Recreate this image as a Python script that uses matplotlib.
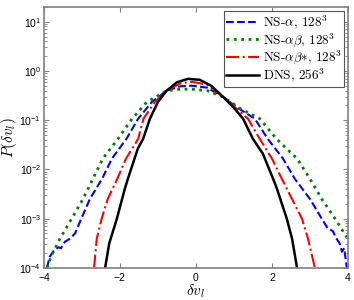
import matplotlib
matplotlib.use("Agg")
import matplotlib.pyplot as plt
import numpy as np

plt.rcParams['mathtext.fontset'] = 'cm'
plt.rcParams['font.family'] = ['Liberation Sans', 'DejaVu Sans']

# NS-alpha, 128^3 (x, log10 P)
x_a = [-3.92, -3.85, -3.76, -3.62, -3.55, -3.45, -3.32, -3.18, -3.05, -2.79,
       -2.47, -2.21, -1.83, -1.52, -1.16, -0.77, -0.4, -0.1, 0.3, 0.72,
       1.1, 1.55, 1.89, 2.29, 2.6, 3.0, 3.31, 3.47, 3.6, 3.7, 3.78, 3.84,
       3.9, 3.97]
ly_a = [-4.0, -3.78, -3.67, -3.58, -3.6, -3.47, -3.41, -3.3, -3.06, -2.6,
        -2.19, -1.78, -1.38, -0.97, -0.63, -0.40, -0.31, -0.30, -0.34, -0.53,
        -0.75, -0.97, -1.38, -1.78, -2.19, -2.6, -3.0, -3.2, -3.25, -3.41, -3.5, -3.67,
        -3.6, -4.0]

# NS-alpha-beta, 128^3
x_b = [-3.92, -3.80, -3.58, -3.27, -2.97, -2.71, -2.45, -2.05, -1.68, -1.29,
       -0.77, -0.4, -0.1, 0.3, 0.72, 1.2, 1.68, 2.12, 2.66, 3.0, 3.31, 3.66, 3.97]
ly_b = [-4.0, -3.75, -3.41, -3.0, -2.6, -2.19, -1.78, -1.38, -0.97, -0.63,
        -0.40, -0.37, -0.37, -0.40, -0.53, -0.78, -0.97, -1.38, -1.78, -2.19,
        -2.6, -3.0, -3.38]

# NS-alpha-beta*, 128^3
x_c = [-2.68, -2.61, -2.48, -2.32, -2.07, -1.84, -1.52, -1.38, -1.08, -0.77,
       -0.4, -0.1, 0.3, 0.72, 1.0, 1.37, 1.68, 2.0, 2.26, 2.39, 2.79, 2.95, 3.13]
ly_c = [-4.0, -3.41, -3.0, -2.6, -2.19, -1.78, -1.38, -0.97, -0.63, -0.40,
        -0.25, -0.22, -0.28, -0.53, -0.72, -0.97, -1.38, -1.78, -2.19, -2.39,
        -3.0, -3.41, -4.0]

# DNS, 256^3
x_d = [-2.39, -2.28, -2.08, -1.87, -1.79, -1.53, -1.39, -1.21, -1.0, -0.77,
       -0.5, -0.21, 0.1, 0.4, 0.72, 1.0, 1.24, 1.5, 1.76, 2.03, 2.13, 2.39,
       2.53, 2.66]
ly_d = [-4.0, -3.5, -3.0, -2.39, -2.19, -1.58, -1.38, -0.97, -0.63, -0.40,
        -0.23, -0.16, -0.18, -0.30, -0.53, -0.75, -0.97, -1.38, -1.68, -2.19,
        -2.39, -3.0, -3.41, -4.0]

labels = [r'NS-$\alpha$, $128^3$', r'NS-$\alpha\beta$, $128^3$',
          r'NS-$\alpha\beta{*}$, $128^3$', r'DNS, $256^3$']

fig = plt.figure(figsize=(3.54, 3.0), dpi=100)
ax = fig.add_axes([0.124, 0.107, 0.859, 0.870])

ax.semilogy(x_a, 10**np.array(ly_a), '--', color='#0000ff', lw=1.5, label=labels[0])
ax.semilogy(x_b, 10**np.array(ly_b), ':', color='#008000', lw=2.0, label=labels[1])
ax.semilogy(x_c, 10**np.array(ly_c), '-.', color='#ff0000', lw=1.5, label=labels[2])
ax.semilogy(x_d, 10**np.array(ly_d), '-', color='black', lw=1.8, label=labels[3])

ax.set_xlim(-4, 4)
ax.set_ylim(1e-4, 20)
ax.set_xticks([-4, -2, 0, 2, 4])
ax.set_yticks([1e-4, 1e-3, 1e-2, 1e-1, 1e0, 1e1])
ax.tick_params(which='both', direction='in', top=True, right=True, color='#808080',
               labelsize=7.5, pad=2)
ax.tick_params(axis='x', pad=4)
ax.tick_params(which='major', length=3.5)
ax.tick_params(which='minor', length=2)
for s in ax.spines.values():
    s.set_color('#808080')
    s.set_linewidth(1.2)

ax.set_xlabel(r'$\delta v_l$', fontsize=11, labelpad=-1)
ax.set_ylabel(r'$P(\delta v_l)$', fontsize=11, labelpad=0)

leg = ax.legend(loc='upper right', prop={'family': 'cmr10', 'size': 9.5},
                handlelength=2.5, handletextpad=0.25, borderpad=0.2,
                labelspacing=0.0, borderaxespad=0.3, fancybox=False,
                framealpha=1)
leg.get_frame().set_edgecolor('#555555')
leg.get_frame().set_linewidth(0.8)

plt.savefig('out.png', dpi=100)
